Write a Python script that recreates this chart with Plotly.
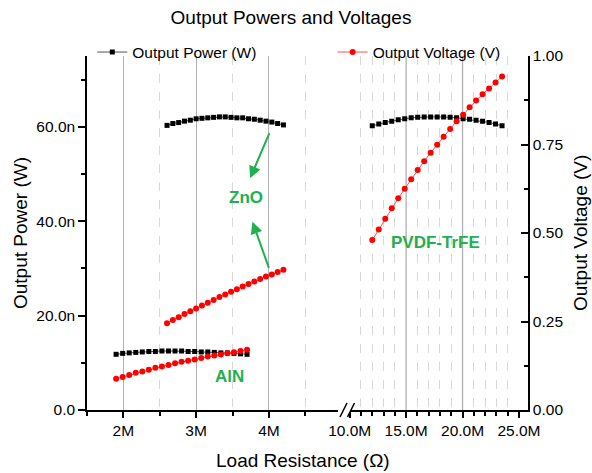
import plotly.graph_objects as go

# ---------------- data ----------------
# Left segment (Load resistance in MΩ)
zno_r = [2.60, 2.68, 2.76, 2.84, 2.92, 3.00, 3.08, 3.16, 3.24, 3.32, 3.40,
         3.48, 3.56, 3.64, 3.72, 3.80, 3.88, 3.96, 4.04, 4.12, 4.20]
zno_power_nw = [60.3, 60.7, 60.9, 61.2, 61.4, 61.7, 61.8, 61.9, 62.0, 62.1, 62.1,
                62.0, 61.9, 61.9, 61.7, 61.6, 61.4, 61.2, 61.0, 60.7, 60.4]
zno_voltage = [0.245, 0.254, 0.262, 0.271, 0.279, 0.287, 0.295, 0.303, 0.311, 0.319, 0.326,
               0.334, 0.341, 0.349, 0.356, 0.363, 0.370, 0.377, 0.383, 0.390, 0.396]

aln_r = [1.90, 1.99, 2.08, 2.17, 2.26, 2.35, 2.44, 2.53, 2.62, 2.71, 2.80,
         2.89, 2.98, 3.07, 3.16, 3.25, 3.34, 3.43, 3.52, 3.61, 3.70]
aln_power_nw = [11.8, 12.0, 12.1, 12.2, 12.3, 12.4, 12.4, 12.5, 12.5, 12.5, 12.5,
                12.4, 12.4, 12.3, 12.3, 12.2, 12.1, 12.1, 12.0, 11.9, 11.8]
aln_voltage = [0.088, 0.093, 0.099, 0.105, 0.109, 0.114, 0.119, 0.123, 0.127, 0.132, 0.136,
               0.139, 0.143, 0.147, 0.151, 0.154, 0.157, 0.160, 0.163, 0.167, 0.170]

# Right segment
pvdf_r = [12.000, 12.575, 13.150, 13.725, 14.300, 14.875, 15.450, 16.025, 16.600, 17.175, 17.750,
          18.325, 18.900, 19.475, 20.050, 20.625, 21.200, 21.775, 22.350, 22.925, 23.500]
pvdf_power_nw = [60.2, 60.6, 60.9, 61.2, 61.5, 61.7, 61.9, 62.0, 62.1, 62.1, 62.1,
                 62.1, 62.0, 61.9, 61.7, 61.6, 61.4, 61.2, 60.9, 60.6, 60.2]
pvdf_voltage = [0.480, 0.510, 0.540, 0.570, 0.598, 0.625, 0.652, 0.678, 0.703, 0.727, 0.749,
                0.772, 0.794, 0.816, 0.834, 0.855, 0.874, 0.892, 0.908, 0.925, 0.942]

x_left_ticks = [2, 3, 4]
x_left_labels = ["2M", "3M", "4M"]
x_right_ticks = [10, 15, 20, 25]
x_right_labels = ["10.0M", "15.0M", "20.0M", "25.0M"]
y_power_ticks = [0, 20, 40, 60]
y_power_labels = ["0.0", "20.0n", "40.0n", "60.0n"]
y_volt_ticks = [0, 0.25, 0.5, 0.75, 1.0]
y_volt_labels = ["0.00", "0.25", "0.50", "0.75", "1.00"]

FONT = "Arial, Liberation Sans, sans-serif"
GREEN = "#1fb04f"
BLACK = "#000000"
RED = "#ff0000"
TICK_SIZE = 15.5
TITLE_SIZE = 19

fig = go.Figure()

def power_trace(x, y, xa, name=None, show=False):
    return go.Scatter(x=x, y=y, xaxis=xa, yaxis="y", mode="lines+markers",
                      name=name, showlegend=show, legend="legend",
                      line=dict(color="#555555", width=1),
                      marker=dict(symbol="square", size=5, color=BLACK))

def volt_trace(x, y, xa, name=None, show=False):
    return go.Scatter(x=x, y=y, xaxis=xa, yaxis="y2", mode="lines+markers",
                      name=name, showlegend=show, legend="legend2",
                      line=dict(color="#ff5050", width=1),
                      marker=dict(symbol="circle", size=6, color=RED))

fig.add_trace(power_trace(zno_r, zno_power_nw, "x", "Output Power (W)", True))
fig.add_trace(power_trace(aln_r, aln_power_nw, "x"))
fig.add_trace(power_trace(pvdf_r, pvdf_power_nw, "x2"))
fig.add_trace(volt_trace(zno_r, zno_voltage, "x"))
fig.add_trace(volt_trace(aln_r, aln_voltage, "x"))
fig.add_trace(volt_trace(pvdf_r, pvdf_voltage, "x2", "Output Voltage (V)", True))

tickfont = dict(family=FONT, size=TICK_SIZE, color=BLACK)

fig.update_layout(
    width=592, height=473,
    margin=dict(l=87, r=64, t=56, b=63),
    paper_bgcolor="white", plot_bgcolor="white",
    font=dict(family=FONT, color=BLACK),
    title=dict(text="Output Powers and Voltages", x=291 / 592, xanchor="center",
               y=1 - 17 / 473, yanchor="middle", yref="container",
               font=dict(family=FONT, size=TITLE_SIZE, color=BLACK)),
    xaxis=dict(domain=[0, 0.5692], range=[1.5, 4.95], anchor="y",
               tickvals=x_left_ticks, ticktext=x_left_labels,
               showline=True, linecolor=BLACK, linewidth=1.5,
               ticks="outside", ticklen=6, tickwidth=1.5, tickcolor=BLACK,
               showgrid=True, gridcolor="#b0b0b0", gridwidth=1.3,
               zeroline=False, tickfont=tickfont,
               minor=dict(tickvals=[1.5, 2.5, 3.5, 4.5], ticks="outside", ticklen=4,
                          tickcolor=BLACK, showgrid=True, gridcolor="#d8d8d8",
                          griddash="dash", gridwidth=1)),
    xaxis2=dict(domain=[0.5957, 1.0], range=[10, 25.8], anchor="y",
                tickvals=x_right_ticks, ticktext=x_right_labels,
                showline=True, linecolor=BLACK, linewidth=1.5,
                ticks="outside", ticklen=6, tickwidth=1.5, tickcolor=BLACK,
                showgrid=False, zeroline=False, tickfont=tickfont,
                minor=dict(tickvals=[11, 12, 13, 14, 16, 17, 18, 19, 21, 22, 23, 24],
                           ticks="outside", ticklen=4, tickcolor=BLACK,
                           showgrid=True, gridcolor="#d8d8d8", griddash="dash", gridwidth=1)),
    yaxis=dict(domain=[0, 1], range=[0, 75], anchor="x",
               tickvals=y_power_ticks, ticktext=y_power_labels,
               showline=True, linecolor=BLACK, linewidth=1.5,
               ticks="outside", ticklen=7, tickwidth=1.5, tickcolor=BLACK,
               showgrid=False, zeroline=False, tickfont=tickfont,
               minor=dict(tickvals=[10, 30, 50, 70], ticks="outside", ticklen=4,
                          tickcolor=BLACK, showgrid=False)),
    yaxis2=dict(range=[0, 1], anchor="x2", overlaying="y", side="right",
                tickvals=y_volt_ticks, ticktext=y_volt_labels,
                showline=True, linecolor=BLACK, linewidth=1.5,
                ticks="inside", ticklen=7, tickwidth=1.5, tickcolor=BLACK,
                showgrid=False, zeroline=False, tickfont=tickfont,
                minor=dict(tickvals=[0.125, 0.375, 0.625, 0.875], ticks="inside", ticklen=4,
                           tickcolor=BLACK, showgrid=False)),
    legend=dict(x=0.012, y=1.01, xanchor="left", yanchor="middle",
                bgcolor="rgba(0,0,0,0)", font=dict(family=FONT, size=TICK_SIZE, color=BLACK),
                itemwidth=30),
    legend2=dict(x=0.557, y=1.01, xanchor="left", yanchor="middle",
                 bgcolor="rgba(0,0,0,0)", font=dict(family=FONT, size=TICK_SIZE, color=BLACK),
                 itemwidth=30),
)

# Solid major gridlines on right segment
for xv in [15, 20]:
    fig.add_shape(type="line", xref="x2", yref="paper", x0=xv, x1=xv, y0=0, y1=1,
                  line=dict(color="#b0b0b0", width=1.3), layer="below")

# Axis-break marks
for x0p, x1p in [(340, 347), (347.5, 354.5)]:
    fig.add_shape(type="line", xref="paper", yref="paper",
                  x0=(x0p - 87) / 441, x1=(x1p - 87) / 441,
                  y0=-7 / 354, y1=7 / 354, line=dict(color=BLACK, width=1.5))

# Axis titles
fig.add_annotation(text="Load Resistance (Ω)", xref="paper", yref="paper",
                   x=(303 - 87) / 441, y=(410 - 460) / 354, showarrow=False,
                   xanchor="center", yanchor="middle",
                   font=dict(family=FONT, size=TITLE_SIZE, color=BLACK))
fig.add_annotation(text="Output Power (W)", xref="paper", yref="paper",
                   x=(20 - 87) / 441, y=0.5, showarrow=False, textangle=-90,
                   xanchor="center", yanchor="middle",
                   font=dict(family=FONT, size=TITLE_SIZE, color=BLACK))
fig.add_annotation(text="Output Voltage (V)", xref="paper", yref="paper",
                   x=(580 - 87) / 441, y=0.5, showarrow=False, textangle=-90,
                   xanchor="center", yanchor="middle",
                   font=dict(family=FONT, size=TITLE_SIZE, color=BLACK))

# Material labels
lab_font = dict(family=FONT, size=17, color=GREEN)
fig.add_annotation(text="<b>ZnO</b>", xref="x", yref="y", x=3.68, y=45.0,
                   showarrow=False, font=lab_font)
fig.add_annotation(text="<b>AlN</b>", xref="x", yref="y", x=3.46, y=7.2,
                   showarrow=False, font=lab_font)
fig.add_annotation(text="<b>PVDF-TrFE</b>", xref="x2", yref="y", x=17.57, y=35.4,
                   showarrow=False, font=lab_font)

# Arrows
fig.add_annotation(text="", xref="x", yref="y", x=3.742, y=49.1,
                   axref="x", ayref="y", ax=4.016, ay=59.0,
                   showarrow=True, arrowhead=2, arrowsize=1.2, arrowwidth=2, arrowcolor=GREEN)
fig.add_annotation(text="", xref="x", yref="y", x=3.774, y=39.9,
                   axref="x", ayref="y", ax=4.007, ay=29.8,
                   showarrow=True, arrowhead=2, arrowsize=1.2, arrowwidth=2, arrowcolor=GREEN)

fig.write_html("out.html", config={"displayModeBar": False},
               post_script="document.body.style.margin='0';document.body.style.padding='0';")
